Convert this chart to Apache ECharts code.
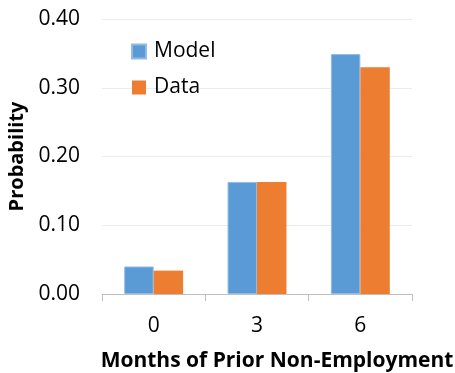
<!DOCTYPE html>
<html>
<head>
<meta charset="utf-8">
<script src="https://cdn.jsdelivr.net/npm/echarts@6/dist/echarts.min.js"></script>
<style>
  html, body { margin: 0; padding: 0; background: #fff; }
  #chart { width: 455px; height: 373px; }
</style>
</head>
<body>
<div id="chart"></div>
<script>
// Months of prior non-employment and the probability for each
const categories = ['0', '3', '6'];
const modelValues = [0.040, 0.163, 0.349];
const dataValues = [0.034, 0.163, 0.330];
const yTicks = [0, 0.1, 0.2, 0.3, 0.4];

const FONT = '"Open Sans", "Liberation Sans", sans-serif';

const chart = echarts.init(document.getElementById('chart'));
chart.setOption({
  animation: false,
  backgroundColor: '#ffffff',
  textStyle: { fontFamily: FONT },
  grid: { left: 102, right: 43, top: 19, bottom: 79, containLabel: false, outerBoundsMode: 'none' },
  legend: {
    orient: 'vertical',
    left: 126,
    top: 36,
    itemWidth: 14,
    itemHeight: 14,
    itemGap: 15,
    icon: 'rect',
    textStyle: { fontFamily: FONT, fontSize: 21, color: '#000', padding: [0, 0, 0, 3] },
    data: ['Model', 'Data']
  },
  xAxis: {
    type: 'category',
    data: categories,
    name: 'Months of Prior Non-Employment',
    nameLocation: 'middle',
    nameGap: 57,
    nameTextStyle: {
      fontFamily: FONT, fontSize: 21, fontWeight: 'bold', color: '#000',
      padding: [0, 0, 0, 40]
    },
    axisLine: { lineStyle: { color: '#bfbfbf', width: 1 } },
    axisTick: { show: true, length: 7, lineStyle: { color: '#bfbfbf' } },
    axisLabel: { fontFamily: FONT, fontSize: 21, color: '#000', margin: 22 }
  },
  yAxis: {
    type: 'value',
    min: yTicks[0],
    max: yTicks[yTicks.length - 1],
    interval: 0.1,
    name: 'Probability',
    nameLocation: 'middle',
    nameGap: 75,
    nameTextStyle: { fontFamily: FONT, fontSize: 20, fontWeight: 'bold', color: '#000' },
    axisLine: { show: false },
    axisTick: { show: false },
    splitLine: { lineStyle: { color: '#ececec', width: 1 } },
    axisLabel: {
      fontFamily: FONT, fontSize: 21, color: '#000', margin: 22,
      formatter: v => v.toFixed(2)
    }
  },
  series: [
    {
      name: 'Model',
      type: 'bar',
      data: modelValues,
      barGap: '0%',
      barCategoryGap: '43%',
      itemStyle: { color: '#5b9bd5', borderColor: '#8fbbe5', borderWidth: 1 }
    },
    {
      name: 'Data',
      type: 'bar',
      data: dataValues,
      itemStyle: { color: '#ed7d31' }
    }
  ]
});
</script>
</body>
</html>
